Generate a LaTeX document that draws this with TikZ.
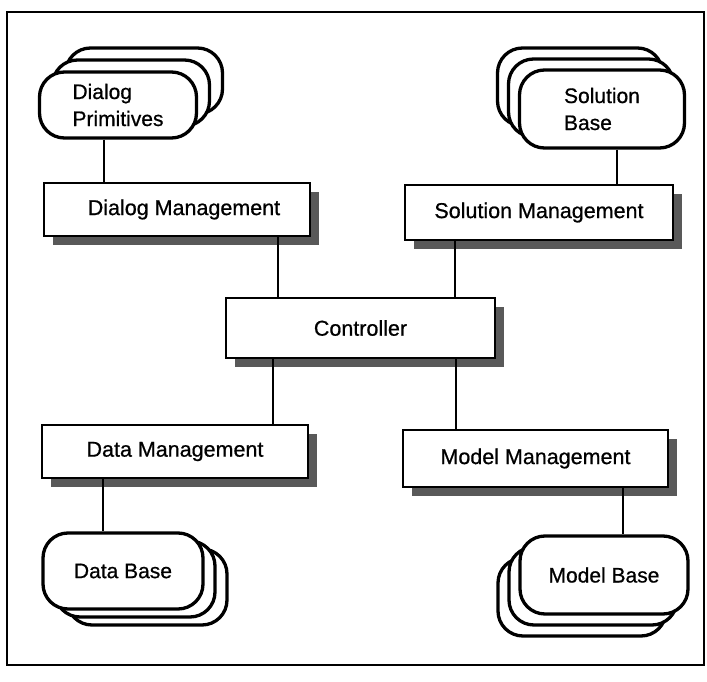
\documentclass[tikz,border=0pt]{standalone}
\usepackage{fontspec}
\setmainfont{Liberation Sans}
\newfontfamily\scanfont[FakeBold=0.7]{Liberation Sans}
\usetikzlibrary{shadows}
\begin{document}
\begin{tikzpicture}[x=1pt,y=-1pt,
  mgmt/.style={draw, line width=2.5pt, fill=white, inner sep=0pt,
    font=\scanfont\fontsize{21.5}{25}\selectfont,
    drop shadow={shadow xshift=9pt, shadow yshift=-9pt, fill=black!65, opacity=1}},
  base/.style={draw, line width=3.3pt, fill=white, rounded corners=25pt, inner sep=0pt,
    font=\scanfont\fontsize{21}{27}\selectfont, align=left},
  link/.style={line width=2.6pt},
  frame/.style={line width=2.4pt}]
\useasboundingbox (0,0) rectangle (707,682);
\draw[frame] (7,12) rectangle (704,665);

% management boxes
\node[mgmt, minimum width=266pt, minimum height=53pt] (dm) at (177,209.5) {\hspace*{14pt}Dialog Management};
\node[mgmt, minimum width=268pt, minimum height=55pt] (sm) at (539,212.5) {Solution Management};
\node[mgmt, minimum width=269pt, minimum height=60pt] (ctl) at (360.5,328) {Controller};
\node[mgmt, minimum width=266pt, minimum height=53pt] (dam) at (175,451.5) {Data Management};
\node[mgmt, minimum width=265pt, minimum height=57pt] (mm) at (535.5,458.5) {Model Management};

% Dialog Primitives stack
\node[base, minimum width=157pt, minimum height=66pt] (dp3) at (144,81) {};
\node[base, minimum width=157pt, minimum height=66pt] (dp2) at (131,93) {};
\node[base, minimum width=157pt, minimum height=66pt] (dp) at (118,105) {Dialog\\Primitives};

% Solution Base stack
\node[base, minimum width=165pt, minimum height=78pt] (sb3) at (580,87) {};
\node[base, minimum width=165pt, minimum height=78pt] (sb2) at (591,98) {};
\node[base, minimum width=165pt, minimum height=78pt] (sb) at (602,109) {Solution\\Base};

% Data Base stack
\node[base, minimum width=160pt, minimum height=76pt] (db3) at (147,587) {};
\node[base, minimum width=160pt, minimum height=76pt] (db2) at (135,579) {};
\node[base, minimum width=160pt, minimum height=76pt] (db) at (123,571) {Data Base};

% Model Base stack
\node[base, minimum width=168pt, minimum height=78pt] (mb3) at (582,597) {};
\node[base, minimum width=168pt, minimum height=78pt] (mb2) at (593,586) {};
\node[base, minimum width=168pt, minimum height=78pt] (mb) at (604,575) {Model Base};

% connectors
\draw[link] (104,0 |- dp.south) -- (104,0 |- dm.north);
\draw[link] (278,0 |- dm.south) -- (278,0 |- ctl.north);
\draw[link] (617,0 |- sb.south) -- (617,0 |- sm.north);
\draw[link] (455,0 |- sm.south) -- (455,0 |- ctl.north);
\draw[link] (273,0 |- ctl.south) -- (273,0 |- dam.north);
\draw[link] (456,0 |- ctl.south) -- (456,0 |- mm.north);
\draw[link] (103,0 |- dam.south) -- (103,0 |- db.north);
\draw[link] (623,0 |- mm.south) -- (623,0 |- mb.north);
\end{tikzpicture}
\end{document}
